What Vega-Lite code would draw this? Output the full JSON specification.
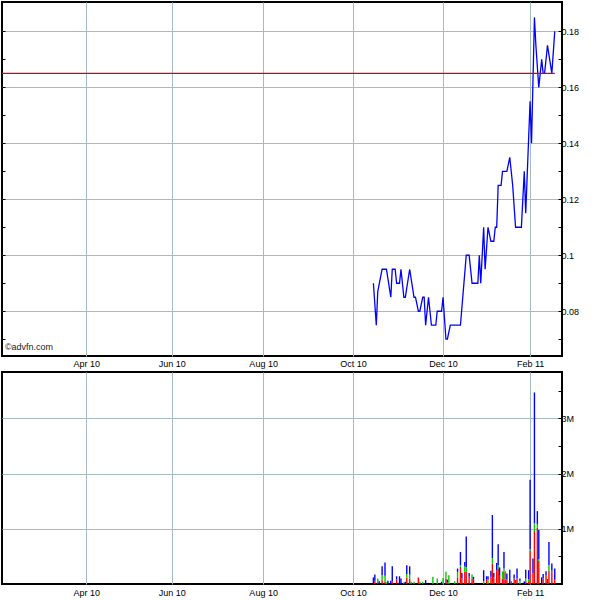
{
  "$schema": "https://vega.github.io/schema/vega-lite/v6.json",
  "background": "white",
  "padding": {"left": 0, "top": 1, "right": 0, "bottom": 0},
  "spacing": 16,
  "bounds": "flush",
  "datasets": {
    "price": [
      {"date": "2010-10-16", "close": 0.09},
      {"date": "2010-10-18", "close": 0.075},
      {"date": "2010-10-19", "close": 0.087},
      {"date": "2010-10-22", "close": 0.095},
      {"date": "2010-10-25", "close": 0.095},
      {"date": "2010-10-28", "close": 0.085},
      {"date": "2010-10-29", "close": 0.095},
      {"date": "2010-10-31", "close": 0.095},
      {"date": "2010-11-01", "close": 0.09},
      {"date": "2010-11-03", "close": 0.09},
      {"date": "2010-11-04", "close": 0.095},
      {"date": "2010-11-06", "close": 0.085},
      {"date": "2010-11-07", "close": 0.085},
      {"date": "2010-11-10", "close": 0.095},
      {"date": "2010-11-13", "close": 0.085},
      {"date": "2010-11-14", "close": 0.085},
      {"date": "2010-11-16", "close": 0.08},
      {"date": "2010-11-17", "close": 0.08},
      {"date": "2010-11-19", "close": 0.085},
      {"date": "2010-11-20", "close": 0.085},
      {"date": "2010-11-21", "close": 0.075},
      {"date": "2010-11-23", "close": 0.085},
      {"date": "2010-11-25", "close": 0.075},
      {"date": "2010-11-28", "close": 0.075},
      {"date": "2010-11-29", "close": 0.08},
      {"date": "2010-12-02", "close": 0.08},
      {"date": "2010-12-03", "close": 0.085},
      {"date": "2010-12-05", "close": 0.07},
      {"date": "2010-12-06", "close": 0.07},
      {"date": "2010-12-08", "close": 0.075},
      {"date": "2010-12-15", "close": 0.075},
      {"date": "2010-12-19", "close": 0.1},
      {"date": "2010-12-21", "close": 0.1},
      {"date": "2010-12-23", "close": 0.09},
      {"date": "2010-12-27", "close": 0.09},
      {"date": "2010-12-28", "close": 0.1},
      {"date": "2010-12-29", "close": 0.09},
      {"date": "2010-12-31", "close": 0.11},
      {"date": "2011-01-01", "close": 0.095},
      {"date": "2011-01-03", "close": 0.11},
      {"date": "2011-01-05", "close": 0.105},
      {"date": "2011-01-07", "close": 0.105},
      {"date": "2011-01-08", "close": 0.11},
      {"date": "2011-01-09", "close": 0.11},
      {"date": "2011-01-10", "close": 0.125},
      {"date": "2011-01-12", "close": 0.125},
      {"date": "2011-01-13", "close": 0.13},
      {"date": "2011-01-16", "close": 0.13},
      {"date": "2011-01-18", "close": 0.135},
      {"date": "2011-01-19", "close": 0.13},
      {"date": "2011-01-20", "close": 0.125},
      {"date": "2011-01-22", "close": 0.11},
      {"date": "2011-01-26", "close": 0.11},
      {"date": "2011-01-28", "close": 0.13},
      {"date": "2011-01-29", "close": 0.115},
      {"date": "2011-02-01", "close": 0.155},
      {"date": "2011-02-02", "close": 0.14},
      {"date": "2011-02-04", "close": 0.185},
      {"date": "2011-02-05", "close": 0.175},
      {"date": "2011-02-07", "close": 0.16},
      {"date": "2011-02-09", "close": 0.17},
      {"date": "2011-02-10", "close": 0.165},
      {"date": "2011-02-11", "close": 0.165},
      {"date": "2011-02-13", "close": 0.175},
      {"date": "2011-02-16", "close": 0.165},
      {"date": "2011-02-18", "close": 0.18}
    ],
    "ref": [
      {"start": "2010-02-02", "end": "2011-02-18", "level": 0.165}
    ],
    "volume": [
      {"date": "2010-10-16", "type": "Offer", "vol": 120000},
      {"date": "2010-10-17", "type": "Bid", "vol": 60000},
      {"date": "2010-10-17", "type": "Offer", "vol": 110000},
      {"date": "2010-10-19", "type": "Bid", "vol": 20000},
      {"date": "2010-10-19", "type": "Mid", "vol": 80000},
      {"date": "2010-10-20", "type": "Offer", "vol": 50000},
      {"date": "2010-10-22", "type": "Bid", "vol": 80000},
      {"date": "2010-10-22", "type": "Mid", "vol": 80000},
      {"date": "2010-10-22", "type": "Offer", "vol": 160000},
      {"date": "2010-10-24", "type": "Bid", "vol": 50000},
      {"date": "2010-10-24", "type": "Mid", "vol": 100000},
      {"date": "2010-10-24", "type": "Offer", "vol": 240000},
      {"date": "2010-10-25", "type": "Mid", "vol": 30000},
      {"date": "2010-10-26", "type": "Offer", "vol": 60000},
      {"date": "2010-10-28", "type": "Offer", "vol": 60000},
      {"date": "2010-10-29", "type": "Bid", "vol": 50000},
      {"date": "2010-10-29", "type": "Offer", "vol": 270000},
      {"date": "2010-11-01", "type": "Bid", "vol": 80000},
      {"date": "2010-11-01", "type": "Offer", "vol": 60000},
      {"date": "2010-11-03", "type": "Offer", "vol": 140000},
      {"date": "2010-11-04", "type": "Offer", "vol": 100000},
      {"date": "2010-11-06", "type": "Mid", "vol": 30000},
      {"date": "2010-11-07", "type": "Offer", "vol": 40000},
      {"date": "2010-11-08", "type": "Bid", "vol": 120000},
      {"date": "2010-11-08", "type": "Mid", "vol": 60000},
      {"date": "2010-11-08", "type": "Offer", "vol": 160000},
      {"date": "2010-11-10", "type": "Bid", "vol": 100000},
      {"date": "2010-11-10", "type": "Mid", "vol": 70000},
      {"date": "2010-11-10", "type": "Offer", "vol": 150000},
      {"date": "2010-11-11", "type": "Mid", "vol": 40000},
      {"date": "2010-11-13", "type": "Mid", "vol": 40000},
      {"date": "2010-11-16", "type": "Bid", "vol": 120000},
      {"date": "2010-11-17", "type": "Mid", "vol": 40000},
      {"date": "2010-11-19", "type": "Mid", "vol": 40000},
      {"date": "2010-11-20", "type": "Offer", "vol": 20000},
      {"date": "2010-11-21", "type": "Offer", "vol": 70000},
      {"date": "2010-11-26", "type": "Mid", "vol": 130000},
      {"date": "2010-11-29", "type": "Mid", "vol": 100000},
      {"date": "2010-12-02", "type": "Offer", "vol": 40000},
      {"date": "2010-12-03", "type": "Mid", "vol": 110000},
      {"date": "2010-12-05", "type": "Bid", "vol": 100000},
      {"date": "2010-12-05", "type": "Mid", "vol": 120000},
      {"date": "2010-12-06", "type": "Bid", "vol": 30000},
      {"date": "2010-12-06", "type": "Offer", "vol": 50000},
      {"date": "2010-12-07", "type": "Mid", "vol": 160000},
      {"date": "2010-12-11", "type": "Mid", "vol": 50000},
      {"date": "2010-12-13", "type": "Bid", "vol": 110000},
      {"date": "2010-12-13", "type": "Mid", "vol": 110000},
      {"date": "2010-12-13", "type": "Offer", "vol": 60000},
      {"date": "2010-12-15", "type": "Bid", "vol": 310000},
      {"date": "2010-12-15", "type": "Mid", "vol": 30000},
      {"date": "2010-12-15", "type": "Offer", "vol": 240000},
      {"date": "2010-12-16", "type": "Bid", "vol": 100000},
      {"date": "2010-12-16", "type": "Offer", "vol": 100000},
      {"date": "2010-12-18", "type": "Bid", "vol": 220000},
      {"date": "2010-12-18", "type": "Mid", "vol": 100000},
      {"date": "2010-12-18", "type": "Offer", "vol": 80000},
      {"date": "2010-12-19", "type": "Bid", "vol": 220000},
      {"date": "2010-12-19", "type": "Mid", "vol": 90000},
      {"date": "2010-12-19", "type": "Offer", "vol": 550000},
      {"date": "2010-12-21", "type": "Bid", "vol": 130000},
      {"date": "2010-12-21", "type": "Offer", "vol": 70000},
      {"date": "2010-12-23", "type": "Bid", "vol": 100000},
      {"date": "2010-12-23", "type": "Mid", "vol": 70000},
      {"date": "2010-12-24", "type": "Bid", "vol": 80000},
      {"date": "2010-12-24", "type": "Offer", "vol": 50000},
      {"date": "2010-12-31", "type": "Mid", "vol": 50000},
      {"date": "2010-12-31", "type": "Offer", "vol": 200000},
      {"date": "2011-01-02", "type": "Bid", "vol": 80000},
      {"date": "2011-01-02", "type": "Offer", "vol": 60000},
      {"date": "2011-01-03", "type": "Mid", "vol": 80000},
      {"date": "2011-01-03", "type": "Offer", "vol": 60000},
      {"date": "2011-01-05", "type": "Bid", "vol": 130000},
      {"date": "2011-01-05", "type": "Offer", "vol": 110000},
      {"date": "2011-01-06", "type": "Bid", "vol": 370000},
      {"date": "2011-01-06", "type": "Mid", "vol": 100000},
      {"date": "2011-01-06", "type": "Offer", "vol": 780000},
      {"date": "2011-01-07", "type": "Bid", "vol": 120000},
      {"date": "2011-01-07", "type": "Offer", "vol": 80000},
      {"date": "2011-01-09", "type": "Bid", "vol": 250000},
      {"date": "2011-01-09", "type": "Offer", "vol": 130000},
      {"date": "2011-01-10", "type": "Bid", "vol": 280000},
      {"date": "2011-01-10", "type": "Mid", "vol": 60000},
      {"date": "2011-01-10", "type": "Offer", "vol": 380000},
      {"date": "2011-01-11", "type": "Bid", "vol": 150000},
      {"date": "2011-01-11", "type": "Offer", "vol": 150000},
      {"date": "2011-01-13", "type": "Bid", "vol": 100000},
      {"date": "2011-01-13", "type": "Mid", "vol": 130000},
      {"date": "2011-01-14", "type": "Bid", "vol": 220000},
      {"date": "2011-01-14", "type": "Mid", "vol": 60000},
      {"date": "2011-01-14", "type": "Offer", "vol": 300000},
      {"date": "2011-01-15", "type": "Bid", "vol": 80000},
      {"date": "2011-01-15", "type": "Mid", "vol": 150000},
      {"date": "2011-01-16", "type": "Bid", "vol": 80000},
      {"date": "2011-01-16", "type": "Offer", "vol": 110000},
      {"date": "2011-01-18", "type": "Offer", "vol": 260000},
      {"date": "2011-01-19", "type": "Bid", "vol": 50000},
      {"date": "2011-01-21", "type": "Bid", "vol": 100000},
      {"date": "2011-01-21", "type": "Offer", "vol": 70000},
      {"date": "2011-01-22", "type": "Bid", "vol": 70000},
      {"date": "2011-01-23", "type": "Bid", "vol": 100000},
      {"date": "2011-01-23", "type": "Offer", "vol": 180000},
      {"date": "2011-01-25", "type": "Mid", "vol": 60000},
      {"date": "2011-01-25", "type": "Offer", "vol": 40000},
      {"date": "2011-01-28", "type": "Offer", "vol": 50000},
      {"date": "2011-01-29", "type": "Bid", "vol": 50000},
      {"date": "2011-01-29", "type": "Mid", "vol": 50000},
      {"date": "2011-01-29", "type": "Offer", "vol": 160000},
      {"date": "2011-01-31", "type": "Bid", "vol": 50000},
      {"date": "2011-01-31", "type": "Mid", "vol": 40000},
      {"date": "2011-01-31", "type": "Offer", "vol": 160000},
      {"date": "2011-02-01", "type": "Bid", "vol": 600000},
      {"date": "2011-02-01", "type": "Mid", "vol": 30000},
      {"date": "2011-02-01", "type": "Offer", "vol": 1260000},
      {"date": "2011-02-03", "type": "Bid", "vol": 200000},
      {"date": "2011-02-03", "type": "Offer", "vol": 260000},
      {"date": "2011-02-04", "type": "Bid", "vol": 960000},
      {"date": "2011-02-04", "type": "Mid", "vol": 140000},
      {"date": "2011-02-04", "type": "Offer", "vol": 2370000},
      {"date": "2011-02-06", "type": "Bid", "vol": 1020000},
      {"date": "2011-02-06", "type": "Mid", "vol": 60000},
      {"date": "2011-02-06", "type": "Offer", "vol": 240000},
      {"date": "2011-02-07", "type": "Bid", "vol": 420000},
      {"date": "2011-02-07", "type": "Mid", "vol": 30000},
      {"date": "2011-02-07", "type": "Offer", "vol": 530000},
      {"date": "2011-02-09", "type": "Offer", "vol": 120000},
      {"date": "2011-02-10", "type": "Bid", "vol": 100000},
      {"date": "2011-02-10", "type": "Offer", "vol": 80000},
      {"date": "2011-02-12", "type": "Bid", "vol": 150000},
      {"date": "2011-02-12", "type": "Offer", "vol": 80000},
      {"date": "2011-02-13", "type": "Bid", "vol": 90000},
      {"date": "2011-02-14", "type": "Bid", "vol": 240000},
      {"date": "2011-02-14", "type": "Mid", "vol": 100000},
      {"date": "2011-02-14", "type": "Offer", "vol": 420000},
      {"date": "2011-02-16", "type": "Bid", "vol": 240000},
      {"date": "2011-02-16", "type": "Offer", "vol": 130000},
      {"date": "2011-02-18", "type": "Bid", "vol": 90000},
      {"date": "2011-02-18", "type": "Offer", "vol": 190000}
    ]
  },
  "vconcat": [
    {
      "width": 560,
      "height": 354,
      "resolve": {"axis": {"x": "independent", "y": "independent"}},
      "layer": [
        {
          "data": {"name": "price"},
          "mark": {"type": "line", "color": "#0000ff", "strokeWidth": 1.3},
          "encoding": {
            "x": {"field": "date", "type": "temporal",
              "scale": {"domain": [{"year": 2010, "month": 2, "date": 2, "utc": true}, {"year": 2011, "month": 2, "date": 23, "utc": true}], "nice": false, "padding": 0},
              "axis": {"values": [
                {"year": 2010, "month": 4, "date": 1, "utc": true},
                {"year": 2010, "month": 5, "date": 30, "utc": true},
                {"year": 2010, "month": 8, "date": 1, "utc": true},
                {"year": 2010, "month": 10, "date": 2, "utc": true},
                {"year": 2010, "month": 12, "date": 3, "utc": true},
                {"year": 2011, "month": 2, "date": 1, "utc": true}],
                "labelExpr": "utcFormat(datum.value + 3*86400000, '%b %y')",
                "ticks": false, "labelPadding": 3, "grid": true, "title": null}},
            "y": {"field": "close", "type": "quantitative",
              "scale": {"domain": [0.064, 0.1905], "zero": false, "nice": false},
              "axis": {"orient": "right", "values": [0.07, 0.08, 0.09, 0.1, 0.11, 0.12, 0.13, 0.14, 0.15, 0.16, 0.17, 0.18],
                "labelExpr": "round(datum.value*100) % 2 == 0 ? format(datum.value, '.2~f') : ''",
                "grid": true,
                "gridOpacity": {"condition": {"test": "round(datum.value*100) % 2 == 0", "value": 1}, "value": 0},
                "tickSize": -4, "labelPadding": 3, "title": null}}
          }
        },
        {
          "data": {"name": "ref"},
          "mark": {"type": "rule", "color": "#e00000", "strokeWidth": 1.2},
          "encoding": {
            "x": {"field": "start", "type": "temporal", "axis": null},
            "x2": {"field": "end"},
            "y": {"field": "level", "type": "quantitative",
              "axis": {"orient": "left", "values": [0.07, 0.08, 0.09, 0.1, 0.11, 0.12, 0.13, 0.14, 0.15, 0.16, 0.17, 0.18],
                "labels": false, "grid": false, "tickSize": -3, "title": null}}
          }
        },
        {
          "data": {"values": [{"label": "©advfn.com"}]},
          "mark": {"type": "text", "align": "left", "baseline": "alphabetic", "font": "Liberation Sans", "fontSize": 9, "color": "#222"},
          "encoding": {
            "text": {"field": "label"},
            "x": {"datum": {"year": 2010, "month": 2, "date": 4, "utc": true}, "type": "temporal", "axis": null},
            "y": {"datum": 0.0662, "type": "quantitative", "axis": null}
          }
        }
      ]
    },
    {
      "width": 560,
      "height": 212,
      "data": {"name": "volume"},
      "mark": {"type": "bar", "width": 1.4},
      "encoding": {
        "x": {"field": "date", "type": "temporal",
          "scale": {"domain": [{"year": 2010, "month": 2, "date": 2, "utc": true}, {"year": 2011, "month": 2, "date": 23, "utc": true}], "nice": false, "padding": 0},
          "axis": {"values": [
            {"year": 2010, "month": 4, "date": 1, "utc": true},
            {"year": 2010, "month": 5, "date": 30, "utc": true},
            {"year": 2010, "month": 8, "date": 1, "utc": true},
            {"year": 2010, "month": 10, "date": 2, "utc": true},
            {"year": 2010, "month": 12, "date": 3, "utc": true},
            {"year": 2011, "month": 2, "date": 1, "utc": true}],
            "labelExpr": "utcFormat(datum.value + 3*86400000, '%b %y')",
            "ticks": false, "labelPadding": 4, "grid": true, "title": null}},
        "y": {"field": "vol", "type": "quantitative", "stack": "zero",
          "scale": {"domain": [0, 3840000], "nice": false},
          "axis": {"orient": "right", "values": [500000, 1000000, 1500000, 2000000, 2500000, 3000000, 3500000],
            "labelExpr": "datum.value % 1000000 == 0 ? (datum.value/1000000) + 'M' : ''",
            "grid": true,
            "gridOpacity": {"condition": {"test": "datum.value % 1000000 == 0", "value": 1}, "value": 0},
            "tickSize": -4, "labelPadding": 3, "title": null}},
        "color": {"field": "type", "type": "nominal",
          "scale": {"domain": ["Bid", "Mid", "Offer"], "range": ["#ff0000", "#00cc00", "#0000ff"]},
          "legend": null},
        "order": {"field": "type", "sort": "ascending"}
      }
    }
  ],
  "config": {
    "view": {"stroke": "#000", "strokeWidth": 2},
    "axis": {"labelFont": "Liberation Sans", "labelFontSize": 9, "labelColor": "#000", "gridColor": "#a6bcbc", "gridWidth": 1, "domain": false, "tickColor": "#000", "tickWidth": 1}
  }
}
